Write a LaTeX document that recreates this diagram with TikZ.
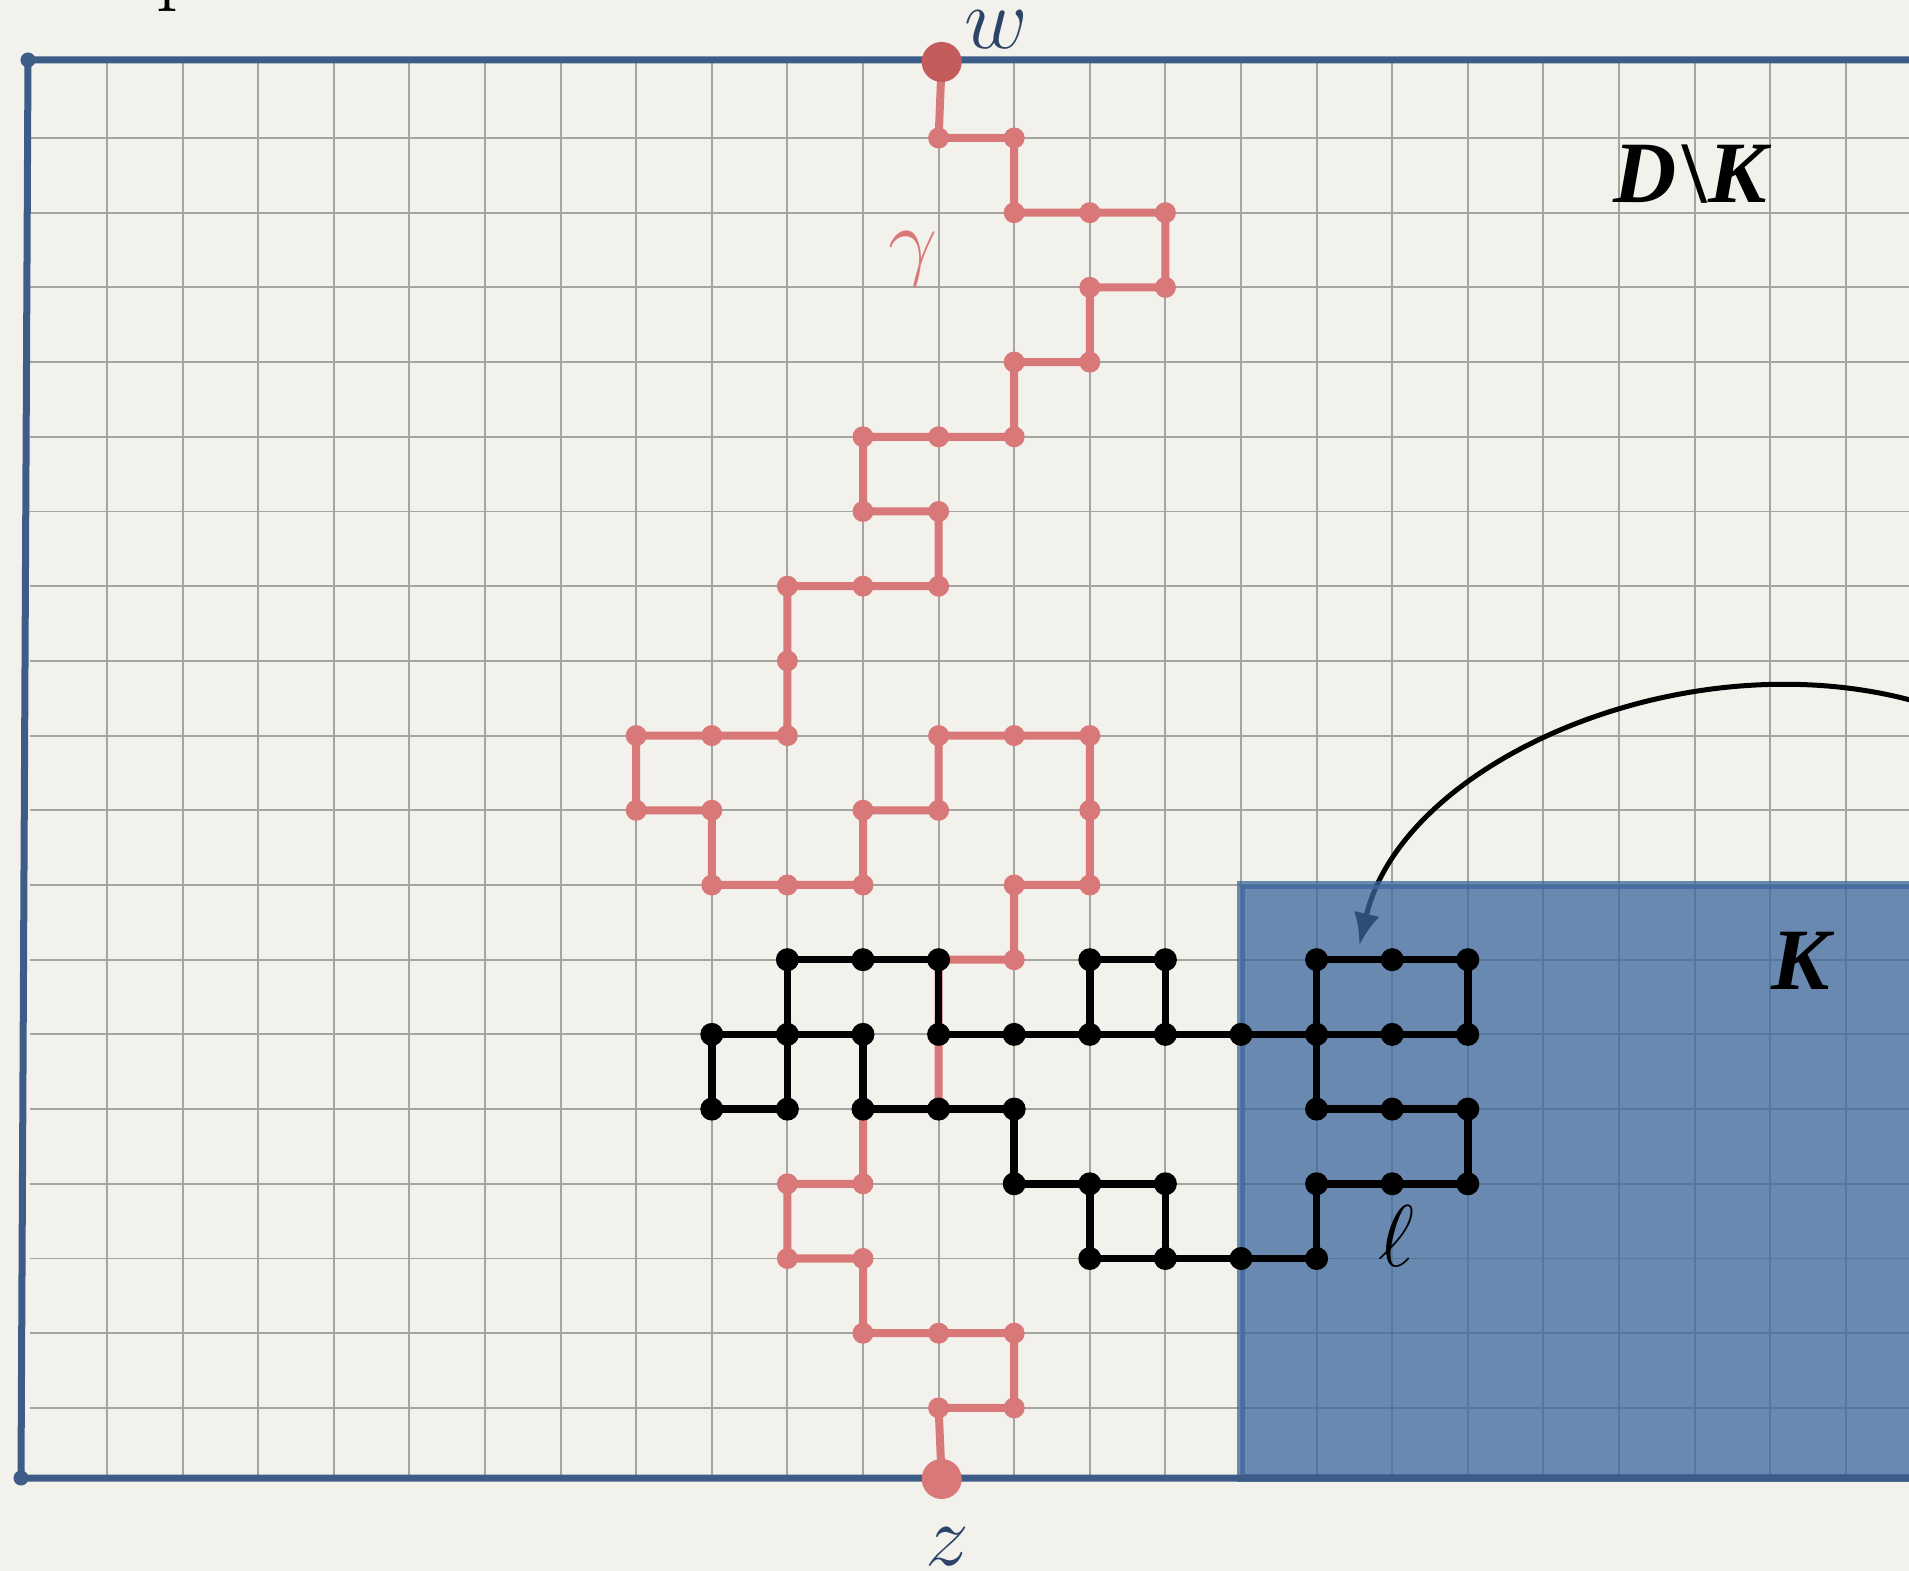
\documentclass[tikz,border=0pt]{standalone}
\usepackage{fontspec}
\newfontfamily\tnr{Liberation Serif}
\usetikzlibrary{arrows.meta}
\definecolor{paper}{HTML}{F3F1EC}
\definecolor{gridgray}{HTML}{A5A4A0}
\definecolor{bordblue}{HTML}{3D5C87}
\definecolor{navy}{HTML}{2B4468}
\definecolor{redc}{HTML}{D87878}
\definecolor{wred}{HTML}{C55C5C}
\definecolor{kblue}{HTML}{3C679E}
\begin{document}
\begin{tikzpicture}[x=0.01cm,y=-0.01cm,
  gridline/.style={draw=gridgray,line width=0.019cm},
  bordline/.style={draw=bordblue,line width=0.07cm,line join=round},
  redpath/.style={draw=redc,line width=0.08cm,line join=round,line cap=round},
  blackpath/.style={draw=black,line width=0.075cm,line join=round,line cap=round},
  kregion/.style={fill=kblue,fill opacity=0.75,draw=kblue,draw opacity=0.75,line width=0.075cm},
  arrowline/.style={draw=black,line width=0.05cm,-{Latex[length=0.32cm,width=0.26cm]}},
  lab/.style={inner sep=0pt,font=\fontsize{24.88}{30}\selectfont}]
\useasboundingbox (0,0) rectangle (1909,1571);
\clip (0,0) rectangle (1909,1571);
\fill[paper] (0,0) rectangle (1909,1571);
% grid coordinates
\foreach \i in {0,...,25}{\foreach \j in {0,...,18}{
  \coordinate (p\i-\j) at ({31.4+75.6*\i},{63.3+74.7*\j});}}
\coordinate (w) at (941.7,62);
\coordinate (z) at (941.7,1479);
\coordinate (tl) at (28,60);
\coordinate (bl) at (21,1478);
\coordinate (tr) at (1920,60);
\coordinate (br) at (1920,1478);
% grid
\foreach \i in {1,...,24}{\draw[gridline] ({31.4+75.6*\i},60) -- ({31.4+75.6*\i},1478);}
\foreach \j in {1,...,18}{\draw[gridline] (30,{63.3+74.7*\j}) -- (1909,{63.3+74.7*\j});}
% arrow
\coordinate (as) at (1914,701);
\coordinate (ae) at (1359.4,945.2);
\draw[arrowline] (as) .. controls (1682.2,638) and (1402.2,762.2) .. (ae);
% region K
\path[kregion] (p16-11) rectangle (2000,1478);
% outer border
\draw[bordline] (tr) -- (tl) -- (bl) -- (br);
\fill[bordblue] (tl) circle[radius=0.075cm];
\fill[bordblue] (bl) circle[radius=0.075cm];
% red path gamma
\draw[redpath] (w) -- (p12-1) -- (p13-1) -- (p13-2) -- (p15-2) -- (p15-3) -- (p14-3) -- (p14-4) -- (p13-4) -- (p13-5) -- (p11-5) -- (p11-6) -- (p12-6) -- (p12-7) -- (p10-7) -- (p10-9) -- (p8-9) -- (p8-10) -- (p9-10) -- (p9-11) -- (p11-11) -- (p11-10) -- (p12-10) -- (p12-9) -- (p14-9) -- (p14-11) -- (p13-11) -- (p13-12) -- (p12-12) -- (p12-14) -- (p11-14) -- (p11-15) -- (p10-15) -- (p10-16) -- (p11-16) -- (p11-17) -- (p13-17) -- (p13-18) -- (p12-18) -- (z);
\foreach \q in {12-1,13-1,13-2,14-2,15-2,15-3,14-3,14-4,13-4,13-5,12-5,11-5,11-6,12-6,12-7,11-7,10-7,10-8,10-9,9-9,8-9,8-10,9-10,9-11,10-11,11-11,11-10,12-10,12-9,13-9,14-9,14-10,14-11,13-11,13-12,11-15,10-15,10-16,11-16,11-17,12-17,13-17,13-18,12-18}
  {\fill[redc] (p\q) circle[radius=0.105cm];}
\fill[wred] (w) circle[radius=0.2cm];
\fill[redc] (z) circle[radius=0.2cm];
% black loop ell
\draw[blackpath] (p10-13) -- (p10-12) -- (p12-12) -- (p12-13) -- (p19-13) -- (p19-12) -- (p17-12) -- (p17-14) -- (p19-14) -- (p19-15) -- (p17-15) -- (p17-16) -- (p14-16) -- (p14-15) -- (p13-15) -- (p13-14) -- (p11-14) -- (p11-13) -- (p9-13) -- (p9-14) -- (p10-14) -- (p10-13);
\draw[blackpath] (p14-13) -- (p14-12) -- (p15-12) -- (p15-13);
\draw[blackpath] (p14-15) -- (p15-15) -- (p15-16);
\foreach \q in {10-12,11-12,12-12,14-12,15-12,17-12,18-12,19-12,9-13,10-13,11-13,12-13,13-13,14-13,15-13,16-13,17-13,18-13,19-13,9-14,10-14,11-14,12-14,13-14,17-14,18-14,19-14,13-15,14-15,15-15,17-15,18-15,19-15,14-16,15-16,16-16,17-16}
  {\fill[black] (p\q) circle[radius=0.115cm];}
% labels
\node[lab,text=navy] (lw) at (996,30) {$w$};
\node[lab,text=navy] (lz) at (947,1547) {$z$};
\node[lab,text=redc,font=\fontsize{29}{34}\selectfont] (lg) at (913,259) {$\gamma$};
\node[lab,font=\fontsize{27}{32}\selectfont] (ll) at (1396,1236) {$\ell$};
\node[lab,anchor=base] (ldk) at (1690,203) {\tnr\bfseries\itshape D\kern0.06em{\upshape\textbackslash}\kern0.02em K};
\node[lab,anchor=base] (lk) at (1801,990) {\tnr\bfseries\itshape K};
\node[lab,anchor=base west] (lp) at (156,-5) {p};
\end{tikzpicture}
\end{document}
